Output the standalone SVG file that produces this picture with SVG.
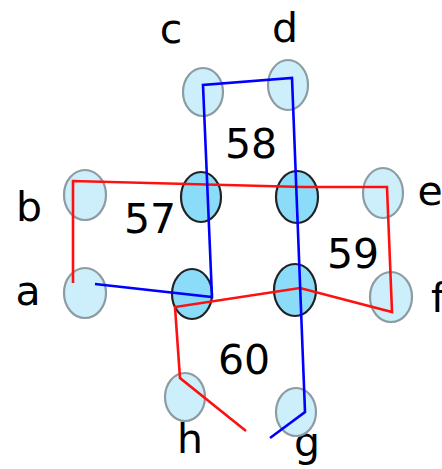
<svg xmlns="http://www.w3.org/2000/svg" width="442" height="469" viewBox="0 0 442 469">
<style>
.lbl{font-family:"DejaVu Sans",sans-serif;font-size:41px;fill:#000}
.lt{fill:#cdeffb;stroke:#8c9ca2;stroke-width:2.2}
.dk{fill:#8adcf8;stroke:#222;stroke-width:2.2}
.r{fill:none;stroke:#ff1010;stroke-width:2.6;stroke-linejoin:miter}
.b{fill:none;stroke:#0000ff;stroke-width:2.6;stroke-linejoin:miter}
</style>
<rect width="442" height="469" fill="#fff"/>
<g id="labels">
<text class="lbl" x="171" y="43" text-anchor="middle">c</text>
<text class="lbl" x="285" y="42" text-anchor="middle">d</text>
<text class="lbl" x="29" y="221" text-anchor="middle">b</text>
<text class="lbl" x="28" y="305" text-anchor="middle">a</text>
<text class="lbl" x="430" y="205" text-anchor="middle">e</text>
<text class="lbl" x="431" y="312">f</text>
<text class="lbl" x="190" y="453" text-anchor="middle">h</text>
<text class="lbl" x="307" y="456" text-anchor="middle">g</text>
<text class="lbl" x="150" y="233" text-anchor="middle">57</text>
<text class="lbl" x="251" y="158" text-anchor="middle">58</text>
<text class="lbl" x="353" y="268" text-anchor="middle">59</text>
<text class="lbl" x="244" y="374" text-anchor="middle">60</text>
</g>
<g id="node-c"><ellipse class="lt" cx="203" cy="92" rx="20" ry="24"/></g>
<g id="node-d"><ellipse class="lt" cx="288" cy="85" rx="20" ry="25"/></g>
<g id="node-b"><ellipse class="lt" cx="85" cy="195" rx="21" ry="25"/></g>
<g id="node-a"><ellipse class="lt" cx="85" cy="293" rx="21" ry="25"/></g>
<g id="node-e"><ellipse class="lt" cx="383" cy="193" rx="20" ry="25"/></g>
<g id="node-f"><ellipse class="lt" cx="391" cy="297" rx="21" ry="25"/></g>
<g id="node-h"><ellipse class="lt" cx="185" cy="397" rx="20" ry="24"/></g>
<g id="node-g"><ellipse class="lt" cx="296" cy="412" rx="20" ry="24"/></g>
<g id="node-57"><ellipse class="dk" cx="201" cy="197" rx="20" ry="25"/></g>
<g id="node-58"><ellipse class="dk" cx="297" cy="197" rx="21" ry="26"/></g>
<g id="node-59"><ellipse class="dk" cx="295" cy="290" rx="21" ry="26"/></g>
<g id="node-60"><ellipse class="dk" cx="192" cy="294" rx="20" ry="25"/></g>
<g id="connectors">
<polyline class="r" points="73,283 73,181 303,187 387,187 392,312 300,288 175,307 180,378 246,431"/>
<polyline class="b" points="95,284 212,297 203,85 292,78 305,412 270,438"/>
</g>
</svg>
